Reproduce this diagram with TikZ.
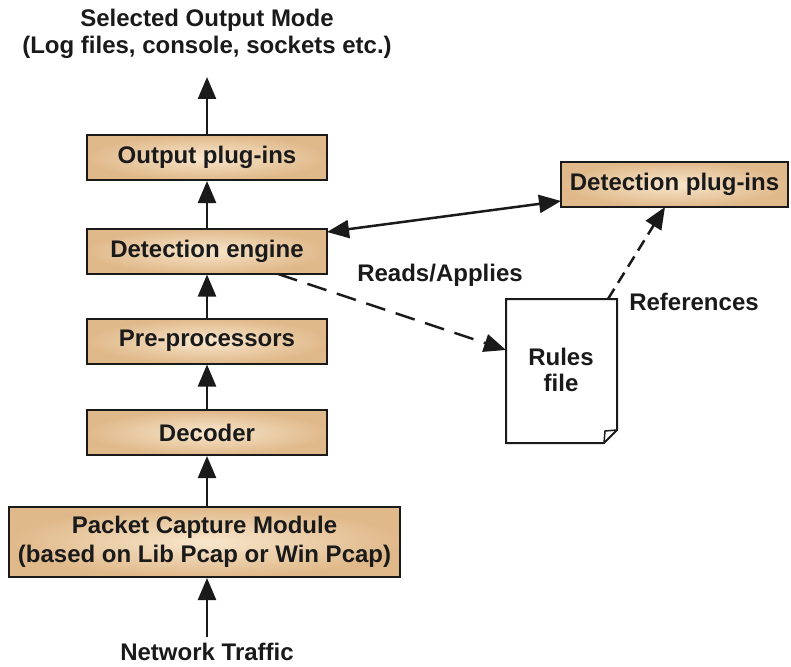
\documentclass[tikz,border=0pt]{standalone}
\usepackage{fontspec}
\setmainfont{Liberation Sans}
\usetikzlibrary{arrows.meta}
\definecolor{boxedge}{HTML}{E0B98A}
\definecolor{boxmid}{HTML}{F8E6CC}
\definecolor{ink}{HTML}{1A1A1A}
\tikzset{
  stage/.style={draw=ink, line width=2pt, inner color=boxmid, outer color=boxedge,
    minimum width=240pt, minimum height=45pt, inner sep=0pt,
    font=\bfseries\fontsize{24}{28}\selectfont, text=ink, align=center},
  lbl/.style={font=\bfseries\fontsize{24}{27}\selectfont, text=ink, align=center, inner sep=0pt},
  flow/.style={draw=ink, line width=2.5pt, -{Triangle[width=18pt,length=22pt]}},
  twoway/.style={draw=ink, line width=2.5pt, {Triangle[width=18pt,length=22pt]}-{Triangle[width=18pt,length=22pt]}},
  longdash/.style={dash pattern=on 20pt off 11pt},
  shortdash/.style={dash pattern=on 12pt off 7pt},
}
\begin{document}
\begin{tikzpicture}[x=1pt,y=-1pt]
\useasboundingbox (0,0) rectangle (791,666);

% main processing chain
\node[stage] (out) at (207,157.5) {Output plug-ins};
\node[stage] (eng) at (207,251) {Detection engine};
\node[stage] (pre) at (207,341) {Pre-processors};
\node[stage] (dec) at (207,432.5) {Decoder};
\node[stage, minimum width=391pt, minimum height=70pt,
  font=\bfseries\fontsize{24}{29}\selectfont] (cap) at (204.5,542)
  {Packet Capture Module\\(based on Lib Pcap or Win Pcap)};
\node[stage, minimum width=227pt] (plug) at (674.5,184.5) {Detection plug-ins};

% rules file: sheet with a folded corner
\draw[ink, line width=2pt, fill=white]
  (506,299) -- (617,299) -- (617,430) -- (604,443) -- (506,443) -- cycle;
\draw[ink, line width=1.5pt] (617,430) -- (605,431) -- (604,443);
\coordinate (rulesW) at (506,350);
\coordinate (rulesN) at (608,299);
\node[lbl, font=\bfseries\fontsize{24}{26}\selectfont] (rules) at (561,370) {Rules\\file};

% texts
\node[lbl] (mode) at (207,34) {Selected Output Mode\\(Log files, console, sockets etc.)};
\node[lbl] (net) at (207,652) {Network Traffic};
\node[lbl] (reads) at (440,275) {Reads/Applies};
\node[lbl] (refs) at (694,302) {References};

% connectors
\coordinate (modeTip) at (207,77);
\coordinate (netEnd) at (207,637);
\draw[flow] (out.north) -- (modeTip);
\draw[flow] (eng.north) -- (out.south);
\draw[flow] (pre.north) -- (eng.south);
\draw[flow] (dec.north) -- (pre.south);
\draw[flow] (cap.north -| dec.south) -- (dec.south);
\draw[flow] (netEnd) -- (cap.south -| netEnd);
\draw[twoway] (327,232) -- (561,201);
\draw[flow, longdash] (278,274) -- (rulesW);
\draw[flow, shortdash] (rulesN) -- (665,207);
\end{tikzpicture}
\end{document}
